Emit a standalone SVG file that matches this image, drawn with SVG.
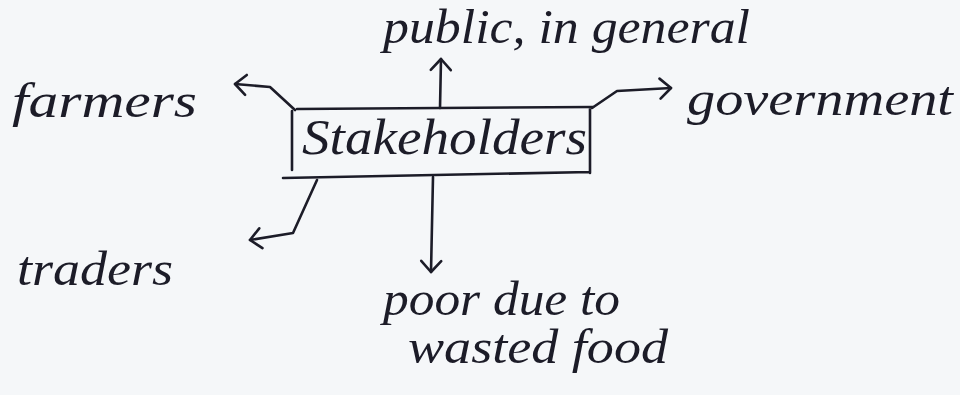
<svg xmlns="http://www.w3.org/2000/svg" width="960" height="395" viewBox="0 0 960 395">
  <style>
    .ink { fill: none; stroke: #1c1c28; stroke-width: 2.6; stroke-linecap: round; stroke-linejoin: round; }
    .label { font-family: "Liberation Serif", "DejaVu Serif", serif; font-style: italic; fill: #1c1c28; }
  </style>
  <defs>
    <marker id="head" markerUnits="userSpaceOnUse" markerWidth="30" markerHeight="30" viewBox="-16 -15 20 30" refX="0" refY="0" orient="auto">
      <path d="M-11,-10 L0,0 L-11,10" fill="none" stroke="#1c1c28" stroke-width="2.6" stroke-linecap="round" stroke-linejoin="round"/>
    </marker>
  </defs>

  <rect width="960" height="395" fill="#f5f7f9"/>

  <!-- connectors fanning out from the central box -->
  <g id="connectors" class="ink">
    <path d="M440,108 L441,59" marker-end="url(#head)"/>
    <path d="M295,110 L270,87 L235,84" marker-end="url(#head)"/>
    <path d="M592,108 L617,91 L671,88" marker-end="url(#head)"/>
    <path d="M317,180 L293,233 L250,240" marker-end="url(#head)"/>
    <path d="M433,177 L431,272" marker-end="url(#head)"/>
  </g>

  <!-- central node -->
  <g id="stakeholders">
    <path class="ink" d="M297,109 L593,107 M292,111 L292,170 M590,108 L590,173 M283,178 L590,172"/>
    <text class="label" x="302" y="154" font-size="50" textLength="285" lengthAdjust="spacingAndGlyphs">Stakeholders</text>
  </g>

  <g id="public">
    <text class="label" x="383" y="43" font-size="48" textLength="367" lengthAdjust="spacingAndGlyphs">public, in general</text>
  </g>

  <g id="farmers">
    <text class="label" x="12" y="117" font-size="48" textLength="185" lengthAdjust="spacingAndGlyphs">farmers</text>
  </g>

  <g id="government">
    <text class="label" x="687" y="115" font-size="48" textLength="266" lengthAdjust="spacingAndGlyphs">government</text>
  </g>

  <g id="traders">
    <text class="label" x="17" y="285" font-size="48" textLength="156" lengthAdjust="spacingAndGlyphs">traders</text>
  </g>

  <g id="poor">
    <text class="label" x="383" y="315" font-size="48" textLength="237" lengthAdjust="spacingAndGlyphs">poor due to</text>
    <text class="label" x="408" y="363" font-size="48" textLength="260" lengthAdjust="spacingAndGlyphs">wasted food</text>
  </g>
</svg>
